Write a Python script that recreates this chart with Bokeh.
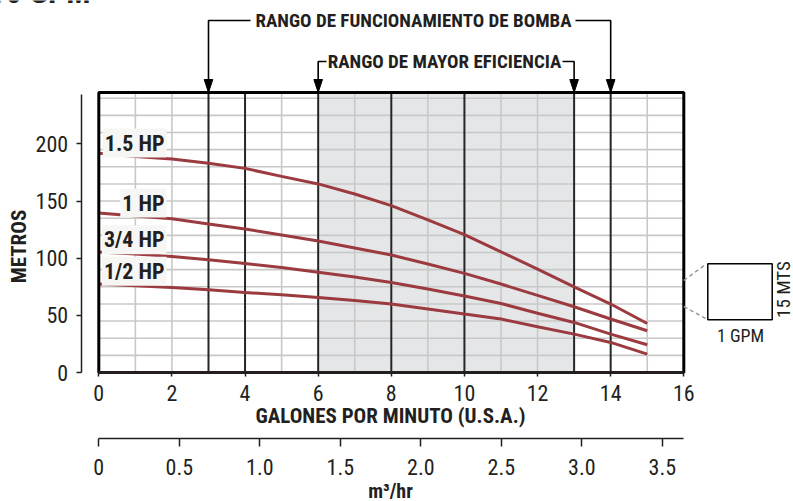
import math
from bokeh.plotting import figure
from bokeh.models import Range1d, LinearAxis, FixedTicker, CustomJSTickFormatter, Label
from bokeh.embed import file_html
from bokeh.resources import INLINE

# ---------------- data ----------------
gpm = [0, 1, 2, 3, 4, 5, 6, 7, 8, 9, 10, 11, 12, 13, 14, 15]
head_1_5hp = [191.8, 189.1, 186.9, 183.0, 178.6, 171.6, 165.0, 156.2, 146.0, 133.5, 120.6, 105.6, 90.5, 75.0, 59.9, 42.9]
head_1hp = [139.6, 137.0, 134.6, 130.0, 125.6, 120.3, 115.0, 109.0, 102.8, 95.0, 86.7, 77.4, 67.5, 57.5, 46.8, 36.5]
head_3_4hp = [105.4, 103.7, 101.6, 98.7, 95.4, 91.9, 87.8, 83.5, 78.8, 73.0, 66.9, 60.4, 51.8, 43.8, 33.6, 24.3]
head_1_2hp = [77.4, 75.9, 74.4, 72.4, 70.0, 68.0, 65.7, 63.0, 59.9, 55.5, 51.1, 46.8, 40.0, 33.6, 26.3, 16.1]
series_labels = ["1.5 HP", "1 HP", "3/4 HP", "1/2 HP"]

gpm_ticks = [0, 2, 4, 6, 8, 10, 12, 14, 16]
m3_ticks = [0, 0.5, 1.0, 1.5, 2.0, 2.5, 3.0, 3.5]
head_ticks = [0, 50, 100, 150, 200]
gpm_max = 16
head_max = 245
grid_gpm_step = 1
grid_head_step = 15
major_gpm_lines = [3, 4, 6, 8, 10, 13, 14]
operating_range = [3, 14]
efficiency_range = [6, 13]
m3_per_gpm = 0.2271

title_text = "10 GPM"
op_text = "RANGO DE FUNCIONAMIENTO DE BOMBA"
eff_text = "RANGO DE MAYOR EFICIENCIA"
x_title = "GALONES POR MINUTO (U.S.A.)"
x2_title = "m³/hr"
y_title = "METROS"
key_w_text = "1 GPM"
key_h_text = "15 MTS"

# ---------------- layout / style ----------------
FONT = "Roboto Condensed, Liberation Sans, sans-serif"
INK = "#231f20"
CURVE = "#9b3a3f"
SHADE = "#e5e6e8"
GRID = "#c8c8c8"
W, H = 793, 501
PX0, PXX = 98.3, 36.5625     # screen x of 0 GPM, px per GPM
PY0, PXY = 372.0, 280 / 245  # screen y of 0 m, px per metre


def gx(px):  # screen x -> GPM
    return (px - PX0) / PXX


def gy(py):  # screen y -> metres
    return (PY0 - py) / PXY


p = figure(width=W, height=H, output_backend="svg", toolbar_location=None,
           x_range=Range1d(gx(0), gx(W)), y_range=Range1d(gy(H), gy(0)),
           x_axis_type=None, y_axis_type=None, min_border=0,
           min_border_left=0, min_border_right=0, min_border_top=0, min_border_bottom=0)
p.outline_line_color = None
p.background_fill_color = "white"
p.border_fill_color = "white"
p.extra_x_ranges = {"m3": Range1d(gx(0) * m3_per_gpm, gx(W) * m3_per_gpm)}

# axes (fixed inside the frame)
yaxis = LinearAxis(ticker=FixedTicker(ticks=head_ticks), bounds=(0, 243), fixed_location=gx(80.7))
xaxis = LinearAxis(ticker=FixedTicker(ticks=gpm_ticks), bounds=(0, gpm_max), fixed_location=0)
x2axis = LinearAxis(x_range_name="m3", ticker=FixedTicker(ticks=m3_ticks),
                    bounds=(0, gpm_max * m3_per_gpm), fixed_location=gy(438),
                    formatter=CustomJSTickFormatter(code="return tick == 0 ? '0' : tick.toFixed(1);"))
for ax in (yaxis, xaxis, x2axis):
    ax.major_label_text_font = FONT
    ax.major_label_text_font_size = "22px"
    ax.major_label_text_color = INK
    ax.minor_tick_line_color = None
    ax.major_tick_in = 0
    ax.major_tick_line_color = INK
    ax.axis_line_color = INK

yaxis.axis_line_width = 1.5
yaxis.major_tick_line_width = 1.5
yaxis.major_tick_out = 5
yaxis.major_label_standoff = 8

xaxis.axis_line_width = 3
xaxis.major_tick_line_width = 1.5
xaxis.major_tick_out = 4
xaxis.major_label_standoff = 8

x2axis.axis_line_width = 1.5
x2axis.major_tick_line_width = 1.5
x2axis.major_tick_out = 8
x2axis.major_label_standoff = 12

# shaded best-efficiency band
p.quad(left=[efficiency_range[0]], right=[efficiency_range[1]], bottom=[0], top=[head_max],
       fill_color=SHADE, line_color=None)

# light grid
vx = [x for x in range(0, gpm_max + 1, grid_gpm_step) if x not in major_gpm_lines and 0 < x < gpm_max]
p.segment(x0=vx, y0=[0] * len(vx), x1=vx, y1=[head_max] * len(vx), line_color=GRID, line_width=1.6)
hy = list(range(grid_head_step, head_max, grid_head_step))
p.segment(x0=[0] * len(hy), y0=hy, x1=[gpm_max] * len(hy), y1=hy, line_color=GRID, line_width=1.6)

# dark guide lines
p.segment(x0=major_gpm_lines, y0=[0] * len(major_gpm_lines), x1=major_gpm_lines,
          y1=[head_max] * len(major_gpm_lines), line_color="#262626", line_width=2)

# curves
for hs in (head_1_5hp, head_1hp, head_3_4hp, head_1_2hp):
    p.line(gpm, hs, line_color=CURVE, line_width=3)

# chart frame
p.quad(left=[0], right=[gpm_max], bottom=[0], top=[head_max], fill_color=None,
       line_color="black", line_width=3)

p.add_layout(yaxis, "left")
p.add_layout(xaxis, "below")
p.add_layout(x2axis, "below")

# range brackets with arrows
y_op, y_eff = gy(20), gy(61)
op_gap_l, op_gap_r = gx(250), gx(575)
eff_gap_l, eff_gap_r = gx(326), gx(562)
p.multi_line(xs=[[operating_range[0], operating_range[0], op_gap_l], [op_gap_r, operating_range[1], operating_range[1]],
                 [efficiency_range[0], efficiency_range[0], eff_gap_l], [eff_gap_r, efficiency_range[1], efficiency_range[1]]],
             ys=[[head_max, y_op, y_op], [y_op, y_op, head_max],
                 [head_max, y_eff, y_eff], [y_eff, y_eff, head_max]],
             line_color="black", line_width=1.6)
arrow_x = operating_range + efficiency_range
hw = 4.3 / PXX
hh = 13 / PXY
p.patches(xs=[[c - hw, c + hw, c] for c in arrow_x],
          ys=[[head_max + hh, head_max + hh, head_max] for _ in arrow_x],
          fill_color="black", line_color="black", line_width=1)


def label(x, y, text, size, bold=True, align="center", baseline="middle", angle=0.0, **kw):
    p.add_layout(Label(x=x, y=y, text=text, text_align=align, text_baseline=baseline, angle=angle,
                       text_font=FONT, text_font_style="bold" if bold else "normal",
                       text_font_size=size, text_color=INK, **kw))


label(gx(90), gy(-8.5), title_text, "32px", align="right")
label(gx(413), y_op, op_text, "19px")
label(gx(444), y_eff, eff_text, "19px")
label(gx(390), gy(415), x_title, "21px")
label(gx(390), gy(490), x2_title, "20px")
label(gx(18.5), gy(246), y_title, "21px", angle=math.pi / 2)

# series labels
label_x = gx(166)
label_y = [gy(142.5), gy(202.5), gy(239.2), gy(270.8)]
for t, ly in zip(series_labels, label_y):
    label(label_x, ly, t, "22px", align="right", background_fill_color="#f6f7f4", padding=2)

# scale key (1 GPM x 15 m)
bx0, bx1 = gx(707.3), gx(771.7)
by0, by1 = gy(319.3), gy(263.3)
p.quad(left=[bx0], right=[bx1], bottom=[by0], top=[by1], fill_color="white",
       line_color="black", line_width=1.5)
p.segment(x0=[gpm_max, gpm_max], y0=[gy(280), gy(306)], x1=[gx(705), gx(705)], y1=[gy(264), gy(318)],
          line_color="#9a9a9a", line_width=1.5, line_dash="4 3")
label(gx(740), gy(335), key_w_text, "18px", bold=False)
label(gx(782.5), gy(289), key_h_text, "19px", bold=False, angle=math.pi / 2)

open("out.html", "w").write(file_html(p, INLINE))
